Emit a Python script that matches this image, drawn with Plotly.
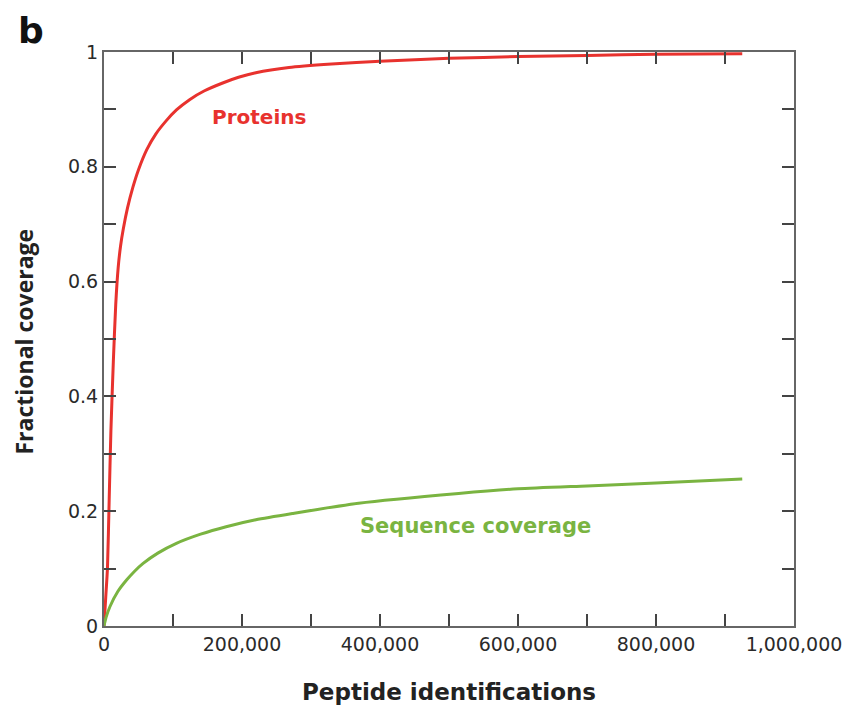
import plotly.graph_objects as go

# Data
protein_x = [0, 2500, 5000, 7500, 10000, 13500, 17000, 20600, 24000, 28000, 34000,
             42000, 50000, 62000, 75000, 90000, 105000, 124000, 145000, 172000,
             195000, 220000, 268000, 330000, 400000, 500000, 600000, 700000,
             800000, 925000]
protein_y = [0, 0.05, 0.10, 0.22, 0.34, 0.46, 0.56, 0.625, 0.662, 0.692, 0.728,
             0.765, 0.795, 0.83, 0.857, 0.88, 0.899, 0.917, 0.932, 0.946,
             0.956, 0.964, 0.973, 0.979, 0.984, 0.989, 0.992, 0.994,
             0.996, 0.997]

seq_x = [0, 3000, 8700, 20000, 32700, 44000, 56700, 78000, 104900, 140000, 177000,
         220000, 273000, 369000, 514000, 600000, 700000, 800000, 925000]
seq_y = [0, 0.015, 0.034, 0.060, 0.080, 0.095, 0.109, 0.127, 0.144, 0.160, 0.173,
         0.185, 0.196, 0.214, 0.231, 0.239, 0.244, 0.249, 0.256]

x_tickvals = [0, 100000, 200000, 300000, 400000, 500000, 600000, 700000, 800000, 900000, 1000000]
x_ticktext = ["0", "", "200,000", "", "400,000", "", "600,000", "", "800,000", "", "1,000,000"]
y_tickvals = [0, 0.1, 0.2, 0.3, 0.4, 0.5, 0.6, 0.7, 0.8, 0.9, 1.0]
y_ticktext = ["0", "", "0.2", "", "0.4", "", "0.6", "", "0.8", "", "1"]

RED = "#e8322e"
GREEN = "#7ab441"
WIDE = "DejaVu Sans"
NARROW = "Open Sans"

PLOT_W = 693
PLOT_H = 574

fig = go.Figure()
fig.add_trace(go.Scatter(x=protein_x, y=protein_y, mode="lines",
                         line=dict(color=RED, width=3, shape="spline", smoothing=0.6),
                         name="Proteins", showlegend=False, hoverinfo="skip"))
fig.add_trace(go.Scatter(x=seq_x, y=seq_y, mode="lines",
                         line=dict(color=GREEN, width=3, shape="spline", smoothing=0.6),
                         name="Sequence coverage", showlegend=False, hoverinfo="skip"))

fig.add_annotation(x=225000, y=0.887, text="<b>Proteins</b>", showarrow=False,
                   font=dict(family=WIDE, size=20, color=RED))
fig.add_annotation(x=539000, y=0.174, text="<b>Sequence coverage</b>", showarrow=False,
                   font=dict(family=WIDE, size=21, color=GREEN))
fig.add_annotation(x=(31 - 104) / PLOT_W, y=1 + 22 / PLOT_H, xref="paper", yref="paper",
                   text="<b>b</b>", showarrow=False, xanchor="center", yanchor="middle",
                   font=dict(family=WIDE, size=36, color="#111111"))
fig.add_annotation(xref="paper", yref="paper", x=0.5, y=0, text="<b>Peptide identifications</b>",
                   showarrow=False, xanchor="center", yanchor="middle",
                   font=dict(family=WIDE, size=23, color="#222222"), yshift=-66)
fig.add_annotation(xref="paper", yref="paper", x=0, y=(626 - 341.5) / PLOT_H,
                   text="<b>Fractional coverage</b>", showarrow=False, textangle=-90,
                   xanchor="center", yanchor="middle",
                   font=dict(family=NARROW, size=23, color="#222222"), xshift=-81)

axis_common = dict(showgrid=False, zeroline=False, showline=True, linecolor="#666666",
                   linewidth=2, ticks="inside", ticklen=12, tickwidth=2, tickcolor="#444444",
                   mirror="ticks", tickfont=dict(family=WIDE, size=19, color="#2a2a2a"))

fig.update_xaxes(range=[0, 1000000], tickvals=x_tickvals, ticktext=x_ticktext, **axis_common)
fig.update_yaxes(range=[0, 1.0], tickvals=y_tickvals, ticktext=y_ticktext, **axis_common)

fig.update_layout(width=846, height=698, margin=dict(l=96, r=57, t=44, b=80),
                  paper_bgcolor="white", plot_bgcolor="white")

fig.write_html("out.html")
